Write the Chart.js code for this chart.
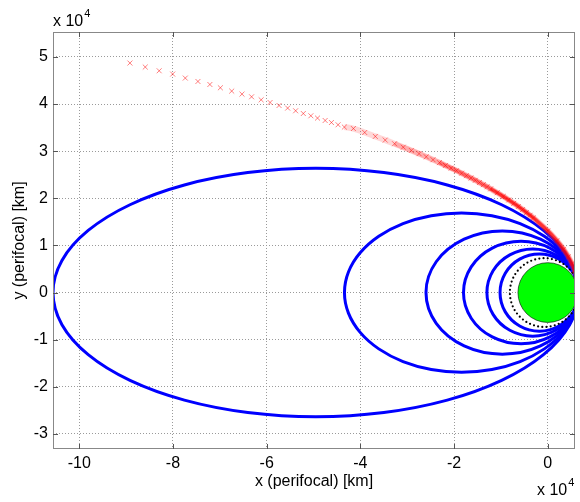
<!DOCTYPE html>
<html>
<head>
<meta charset="utf-8">
<script src="https://cdn.jsdelivr.net/npm/chart.js@4.4.1/dist/chart.umd.min.js"></script>
<style>
  html, body { margin: 0; padding: 0; background: #fff; }
</style>
</head>
<body>
<canvas id="orbit-chart" width="580" height="502"></canvas>
<script>
// values are in units of 10^4 km (perifocal frame)
const xTicks = [-10, -8, -6, -4, -2, 0];
const yTicks = [-3, -2, -1, 0, 1, 2, 3, 4, 5];

const earthCenter = [[0, 0]];
const earthRadius = 0.6378;

// transfer / phasing ellipses, all with the same perigee
const orbit1 = [[0.658,0],[0.467,0.682],[-0.093,1.318],[-0.985,1.864],[-2.146,2.283],[-3.499,2.546],[-4.951,2.636],[-6.403,2.546],[-7.756,2.283],[-8.917,1.864],[-9.809,1.318],[-10.369,0.682],[-10.56,0],[-10.369,-0.682],[-9.809,-1.318],[-8.917,-1.864],[-7.756,-2.283],[-6.403,-2.546],[-4.951,-2.636],[-3.499,-2.546],[-2.146,-2.283],[-0.985,-1.864],[-0.093,-1.318],[0.467,-0.682],[0.658,0]];
const orbit2 = [[0.658,0],[0.573,0.437],[0.323,0.845],[-0.074,1.195],[-0.592,1.464],[-1.194,1.632],[-1.841,1.690],[-2.488,1.632],[-3.090,1.464],[-3.608,1.195],[-4.005,0.845],[-4.255,0.437],[-4.340,0],[-4.255,-0.437],[-4.005,-0.845],[-3.608,-1.195],[-3.090,-1.464],[-2.488,-1.632],[-1.841,-1.690],[-1.194,-1.632],[-0.592,-1.464],[-0.074,-1.195],[0.323,-0.845],[0.573,-0.437],[0.658,0]];
const orbit3 = [[0.658,0],[0.440,0.654],[-0.157,1.133],[-0.971,1.308],[-1.786,1.133],[-2.382,0.654],[-2.600,0],[-2.382,-0.654],[-1.786,-1.133],[-0.971,-1.308],[-0.157,-1.133],[0.440,-0.654],[0.658,0]];
const orbit4 = [[0.658,0],[0.493,0.544],[0.044,0.942],[-0.571,1.088],[-1.186,0.942],[-1.635,0.544],[-1.800,0],[-1.635,-0.544],[-1.186,-0.942],[-0.571,-1.088],[0.044,-0.942],[0.493,-0.544],[0.658,0]];
const orbit5 = [[0.658,0],[0.527,0.463],[0.169,0.801],[-0.321,0.925],[-0.811,0.801],[-1.169,0.463],[-1.300,0],[-1.169,-0.463],[-0.811,-0.801],[-0.321,-0.925],[0.169,-0.801],[0.527,-0.463],[0.658,0]];
const orbit6 = [[0.658,0],[0.546,0.410],[0.239,0.709],[-0.181,0.819],[-0.601,0.709],[-0.908,0.410],[-1.020,0],[-0.908,-0.410],[-0.601,-0.709],[-0.181,-0.819],[0.239,-0.709],[0.546,-0.410],[0.658,0]];
const parkingOrbit = [[0.658,0],[0.560,0.365],[0.291,0.632],[-0.076,0.730],[-0.443,0.632],[-0.712,0.365],[-0.810,0],[-0.712,-0.365],[-0.443,-0.632],[-0.076,-0.730],[0.291,-0.632],[0.560,-0.365],[0.658,0]];

// incoming hyperbola, sampled points (far branch, then dense part near perigee)
const hyperbolaFar = [[-8.918,4.871],[-8.591,4.786],[-8.294,4.707],[-8.006,4.637],[-7.737,4.552],[-7.467,4.480],[-7.212,4.416],[-6.988,4.346],[-6.746,4.276],[-6.527,4.212],[-6.322,4.155],[-6.118,4.091],[-5.927,4.034],[-5.736,3.970],[-5.552,3.915],[-5.382,3.858],[-5.218,3.800],[-5.057,3.752],[-4.915,3.703],[-4.752,3.652],[-4.618,3.609],[-4.476,3.561],[-4.342,3.512]];
const hyperbolaMid = [[-4.149,3.481],[-3.908,3.397],[-3.681,3.314],[-3.470,3.236],[-3.271,3.159],[-3.085,3.085],[-2.913,3.016],[-2.748,2.948],[-2.594,2.881],[-2.450,2.819],[-2.314,2.758],[-2.185,2.698],[-2.064,2.641],[-1.949,2.587],[-1.840,2.533],[-1.737,2.481],[-1.640,2.431],[-1.547,2.383],[-1.459,2.335],[-1.376,2.290],[-1.296,2.245]];
const hyperbolaNear = [[-1.220,2.201],[-1.080,2.119],[-0.951,2.040],[-0.834,1.965],[-0.727,1.894],[-0.629,1.827],[-0.539,1.762],[-0.456,1.700],[-0.379,1.641],[-0.308,1.584],[0,1.309],[0.194,1.100],[0.335,0.919],[0.438,0.758],[0.514,0.613],[0.570,0.479],[0.610,0.352],[0.637,0.232],[0.653,0.115],[0.658,0]];

const FONT = '"Liberation Sans", Arial, Helvetica, sans-serif';
const toXY = pts => pts.map(p => ({ x: p[0], y: p[1] }));
// closed curve: repeat neighbours at both ends so the spline joins smoothly
const closed = pts => toXY([pts[pts.length - 2], ...pts, pts[1]]);
const hideEnds = n => ({
  borderColor: ctx => (ctx.p0DataIndex === 0 || ctx.p1DataIndex === n - 1) ? 'rgba(0,0,0,0)' : undefined
});

function ellipse(pts, color, extra) {
  const data = closed(pts);
  return Object.assign({
    data: data,
    showLine: true,
    borderColor: color,
    borderWidth: 3,
    pointRadius: 0,
    tension: 0.345,
    segment: hideEnds(data.length)
  }, extra || {});
}

function redBand(pts, color, width) {
  return {
    data: toXY(pts),
    showLine: true,
    pointRadius: 0,
    borderColor: color,
    borderWidth: width,
    tension: 0.4
  };
}

const frame = {
  id: 'frame',
  afterDatasetsDraw(chart) {
    const { ctx, chartArea: a, scales: { x, y } } = chart;
    ctx.save();
    ctx.strokeStyle = '#888';
    ctx.lineWidth = 1;
    ctx.strokeRect(a.left + 0.5, a.top + 0.5, a.right - a.left - 1, a.bottom - a.top - 1);
    ctx.strokeStyle = '#555';
    ctx.beginPath();
    xTicks.forEach(v => {
      const px = Math.round(x.getPixelForValue(v)) + 0.5;
      ctx.moveTo(px, a.top); ctx.lineTo(px, a.top + 5);
      ctx.moveTo(px, a.bottom); ctx.lineTo(px, a.bottom - 5);
    });
    yTicks.forEach(v => {
      const py = Math.round(y.getPixelForValue(v)) + 0.5;
      ctx.moveTo(a.left, py); ctx.lineTo(a.left + 5, py);
      ctx.moveTo(a.right, py); ctx.lineTo(a.right - 5, py);
    });
    ctx.stroke();

    // "x 10^4" exponent labels
    ctx.fillStyle = '#000';
    ctx.textBaseline = 'alphabetic';
    const exp = (left, base) => {
      ctx.font = '16px ' + FONT;
      ctx.fillText('x 10', left, base);
      const w = ctx.measureText('x 10').width;
      ctx.font = '11px ' + FONT;
      ctx.fillText('4', left + w + 1, base - 9);
    };
    exp(a.left, 26);
    exp(a.right - 38, 495);
    ctx.restore();
  }
};

new Chart(document.getElementById('orbit-chart'), {
  type: 'scatter',
  data: {
    datasets: [
      {
        data: toXY(hyperbolaFar.concat(hyperbolaMid, hyperbolaNear)),
        showLine: false,
        pointStyle: 'crossRot',
        pointRadius: 3.5,
        borderColor: 'rgba(255,0,0,0.5)',
        borderWidth: 1
      },
      redBand(hyperbolaNear, 'rgba(255,0,0,0.55)', 3),
      redBand(hyperbolaMid.slice(10).concat(hyperbolaNear), 'rgba(255,0,0,0.35)', 4),
      redBand(hyperbolaMid.slice(4).concat(hyperbolaNear), 'rgba(255,40,40,0.25)', 5),
      redBand(hyperbolaFar.slice(-1).concat(hyperbolaMid, hyperbolaNear), 'rgba(255,60,60,0.2)', 6),
      ellipse(parkingOrbit, '#000', { borderWidth: 2.2, borderDash: [0, 4.2], borderCapStyle: 'round' }),
      ellipse(orbit6, '#0000ff'),
      ellipse(orbit5, '#0000ff'),
      ellipse(orbit4, '#0000ff'),
      ellipse(orbit3, '#0000ff'),
      ellipse(orbit2, '#0000ff'),
      ellipse(orbit1, '#0000ff'),
      {
        data: toXY(earthCenter),
        pointStyle: 'circle',
        pointRadius: ctx => {
          const s = ctx.chart.scales.x;
          return s.getPixelForValue(earthRadius) - s.getPixelForValue(0);
        },
        backgroundColor: '#00ff00',
        borderColor: '#000',
        borderWidth: 0.6
      }
    ]
  },
  options: {
    responsive: false,
    animation: false,
    layout: { padding: { top: 32, right: 1, left: 0, bottom: 0 } },
    elements: { line: { capBezierPoints: false } },
    plugins: {
      legend: { display: false },
      tooltip: { enabled: false }
    },
    scales: {
      x: {
        type: 'linear',
        min: -10.56,
        max: 0.58,
        afterFit: s => { s.height = 53; },
        afterBuildTicks: s => { s.ticks = xTicks.map(v => ({ value: v })); },
        grid: { color: '#9a9a9a', lineWidth: 1, drawTicks: false },
        border: { display: false, dash: [1, 2] },
        ticks: { color: '#000', padding: 5, font: { family: FONT, size: 16 }, maxRotation: 0 },
        title: { display: true, text: 'x (perifocal) [km]', color: '#000', font: { family: FONT, size: 16 }, padding: { top: 0, bottom: 11 } }
      },
      y: {
        type: 'linear',
        min: -3.32,
        max: 5.53,
        afterFit: s => { s.width = 53; },
        afterBuildTicks: s => { s.ticks = yTicks.map(v => ({ value: v })); },
        grid: { color: '#9a9a9a', lineWidth: 1, drawTicks: false },
        border: { display: false, dash: [1, 2] },
        ticks: { color: '#000', padding: 5, font: { family: FONT, size: 16 } },
        title: { display: true, text: 'y (perifocal) [km]', color: '#000', font: { family: FONT, size: 16 }, padding: { top: 10, bottom: 0 } }
      }
    }
  },
  plugins: [frame]
});
</script>
</body>
</html>
